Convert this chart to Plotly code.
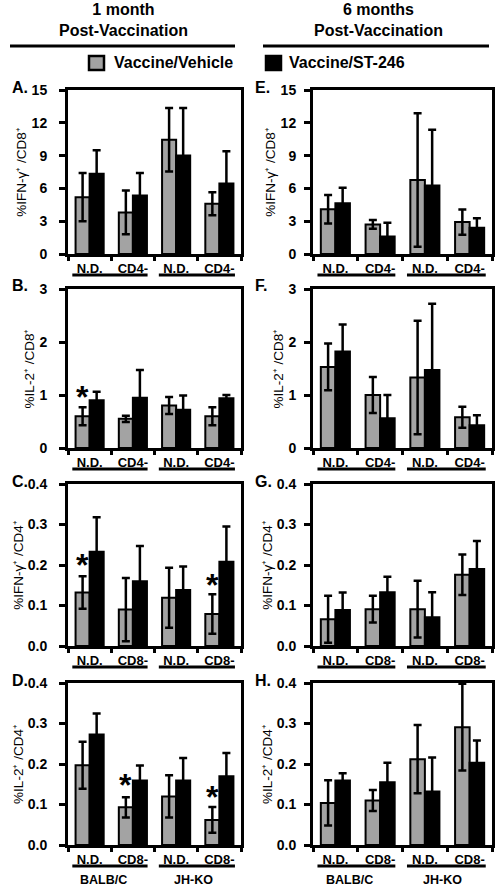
import plotly.graph_objects as go

# ---------------- data ----------------
groups = ["BALB/C", "BALB/C", "JH-KO", "JH-KO"]
cats_cd8 = ["N.D.", "CD4-", "N.D.", "CD4-"]   # CD8+ panels (A, B, E, F)
cats_cd4 = ["N.D.", "CD8-", "N.D.", "CD8-"]   # CD4+ panels (C, D, G, H)
strain_labels = ["BALB/C", "JH-KO"]
series_names = ["Vaccine/Vehicle", "Vaccine/ST-246"]

# 1 month post-vaccination
A_vehicle = [5.2, 3.8, 10.45, 4.6]
A_vehicle_err = [2.2, 2.0, 2.9, 1.05]
A_st246 = [7.35, 5.35, 9.0, 6.45]
A_st246_err = [2.15, 2.05, 4.35, 2.95]

B_vehicle = [0.6, 0.55, 0.8, 0.6]
B_vehicle_err = [0.17, 0.06, 0.16, 0.17]
B_st246 = [0.9, 0.95, 0.72, 0.94]
B_st246_err = [0.16, 0.52, 0.27, 0.06]

C_vehicle = [0.132, 0.09, 0.119, 0.079]
C_vehicle_err = [0.04, 0.078, 0.074, 0.049]
C_st246 = [0.233, 0.16, 0.138, 0.208]
C_st246_err = [0.085, 0.087, 0.058, 0.087]

D_vehicle = [0.197, 0.093, 0.12, 0.062]
D_vehicle_err = [0.058, 0.025, 0.052, 0.032]
D_st246 = [0.273, 0.159, 0.159, 0.17]
D_st246_err = [0.052, 0.037, 0.056, 0.057]

# 6 months post-vaccination
E_vehicle = [4.1, 2.7, 6.77, 2.92]
E_vehicle_err = [1.3, 0.4, 6.1, 1.15]
E_st246 = [4.65, 1.6, 6.27, 2.4]
E_st246_err = [1.4, 1.25, 5.1, 0.86]

F_vehicle = [1.53, 1.0, 1.33, 0.58]
F_vehicle_err = [0.44, 0.34, 1.07, 0.2]
F_st246 = [1.82, 0.56, 1.47, 0.43]
F_st246_err = [0.51, 0.44, 1.25, 0.19]

G_vehicle = [0.066, 0.091, 0.091, 0.176]
G_vehicle_err = [0.058, 0.033, 0.07, 0.05]
G_st246 = [0.089, 0.133, 0.071, 0.19]
G_st246_err = [0.043, 0.038, 0.062, 0.069]

H_vehicle = [0.104, 0.11, 0.212, 0.291]
H_vehicle_err = [0.056, 0.026, 0.084, 0.107]
H_st246 = [0.159, 0.155, 0.132, 0.203]
H_st246_err = [0.018, 0.048, 0.084, 0.055]

# significance markers: (panel, category index, y value)
asterisks = [("B", 0, 0.96), ("C", 0, 0.2), ("C", 3, 0.151), ("D", 1, 0.148), ("D", 3, 0.118)]

# ---------------- styling / layout ----------------
W, H = 495, 890
FONT = "Liberation Sans, Arial, sans-serif"
GRAY = "#a3a3a3"
BARGAP = 0.35
col_px = [(68, 241), (313, 492)]
row_px = [(90, 254), (289, 448), (484, 646), (683, 845)]
label_standoff = [9, 5]

ifn_cd8 = "%IFN-γ⁺ /CD8⁺"
il2_cd8 = "%IL-2⁺ /CD8⁺"
ifn_cd4 = "%IFN-γ⁺ /CD4⁺"
il2_cd4 = "%IL-2⁺ /CD4⁺"

panels = [
    ("A", 0, 0, A_vehicle, A_vehicle_err, A_st246, A_st246_err, cats_cd8, [0, 15], 3, "d", ifn_cd8),
    ("B", 1, 0, B_vehicle, B_vehicle_err, B_st246, B_st246_err, cats_cd8, [0, 3], 1, "d", il2_cd8),
    ("C", 2, 0, C_vehicle, C_vehicle_err, C_st246, C_st246_err, cats_cd4, [0, 0.4], 0.1, ".1f", ifn_cd4),
    ("D", 3, 0, D_vehicle, D_vehicle_err, D_st246, D_st246_err, cats_cd4, [0, 0.4], 0.1, ".1f", il2_cd4),
    ("E", 0, 1, E_vehicle, E_vehicle_err, E_st246, E_st246_err, cats_cd8, [0, 15], 3, "d", ifn_cd8),
    ("F", 1, 1, F_vehicle, F_vehicle_err, F_st246, F_st246_err, cats_cd8, [0, 3], 1, "d", il2_cd8),
    ("G", 2, 1, G_vehicle, G_vehicle_err, G_st246, G_st246_err, cats_cd4, [0, 0.4], 0.1, ".1f", ifn_cd4),
    ("H", 3, 1, H_vehicle, H_vehicle_err, H_st246, H_st246_err, cats_cd4, [0, 0.4], 0.1, ".1f", il2_cd4),
]


def px_x(p):
    return p / W


def px_y(p):
    return 1 - p / H


fig = go.Figure()
layout = dict(
    width=W, height=H, autosize=False,
    margin=dict(l=0, r=0, t=0, b=0, autoexpand=False),
    paper_bgcolor="white", plot_bgcolor="white",
    barmode="group", bargap=BARGAP, bargroupgap=0,
    showlegend=False,
    font=dict(family=FONT, color="black"),
)
annotations = []
shapes = []
gray_offset = -(1 - BARGAP) / 4
panel_axes = {}

for idx, (letter, r, c, veh, veh_err, st, st_err, cats, yr, dt, fmt, ytitle) in enumerate(panels):
    n = idx + 1
    s = "" if n == 1 else str(n)
    keys = [g + " " + k for g, k in zip(groups, cats)]
    panel_axes[letter] = s
    err_style = dict(type="data", color="black", thickness=2.5, width=4, visible=True)
    fig.add_trace(go.Bar(
        x=keys, y=veh, name=series_names[0], legendgroup="veh",
        marker=dict(color=GRAY, line=dict(color="black", width=2)),
        error_y=dict(array=veh_err, **err_style),
        xaxis="x" + s, yaxis="y" + s,
    ))
    fig.add_trace(go.Bar(
        x=keys, y=st, name=series_names[1], legendgroup="st",
        marker=dict(color="black", line=dict(color="black", width=2)),
        error_y=dict(array=st_err, **err_style),
        xaxis="x" + s, yaxis="y" + s,
    ))
    x0, x1 = col_px[c]
    top, bot = row_px[r]
    layout["xaxis" + s] = dict(
        domain=[px_x(x0), px_x(x1)], anchor="y" + s, automargin=False,
        type="category", categoryorder="array", categoryarray=keys,
        tickmode="array", tickvals=keys, ticktext=cats,
        tickson="boundaries", ticks="outside", ticklen=4, tickwidth=2.5, tickcolor="black",
        showline=True, linewidth=3, linecolor="black", mirror=True,
        showgrid=False, zeroline=False, range=[-0.5, 3.5],
        tickfont=dict(family=FONT, size=13, color="black", weight="bold"),
    )
    layout["yaxis" + s] = dict(
        domain=[px_y(bot), px_y(top)], anchor="x" + s, automargin=False,
        range=yr, dtick=dt, tick0=0, tickformat=fmt,
        ticks="outside", ticklen=6, tickwidth=2.5, tickcolor="black",
        ticklabelstandoff=label_standoff[c],
        showline=True, linewidth=3, linecolor="black", mirror=True,
        showgrid=False, zeroline=False,
        tickfont=dict(family=FONT, size=14, color="black", weight="bold"),
        title=dict(text=ytitle, standoff=2,
                   font=dict(family=FONT, size=13.5, color="black")),
    )
    # panel letter
    annotations.append(dict(
        text=letter + ".", xref="paper", yref="paper",
        x=px_x(10 if c == 0 else 253), y=px_y(top - 3),
        xanchor="left", yanchor="middle", showarrow=False,
        font=dict(family=FONT, size=16, color="black", weight="bold"),
    ))
    # group underlines
    uy = px_y(bot + 21)
    for xa, xb in [(-0.4, 1.34), (1.6, 3.36)]:
        shapes.append(dict(type="line", xref="x" + s, yref="paper",
                           x0=xa, x1=xb, y0=uy, y1=uy,
                           line=dict(color="black", width=3)))
    if r == 3:
        for lbl, xc in zip(strain_labels, [0.32, 2.4]):
            annotations.append(dict(
                text=lbl, xref="x" + s, yref="paper", x=xc, y=px_y(bot + 35),
                xanchor="center", yanchor="middle", showarrow=False,
                font=dict(family=FONT, size=12.5, color="black", weight="bold"),
            ))

# asterisks above vehicle bars
for letter, ci, yv in asterisks:
    s = panel_axes[letter]
    annotations.append(dict(
        text="*", xref="x" + s, yref="y" + s, x=ci + gray_offset, y=yv,
        xanchor="center", yanchor="middle", showarrow=False, yshift=0,
        font=dict(family=FONT, size=32, color="black", weight="bold"),
    ))

# column headers
for txt, xc, xl0, xl1 in [("1 month<br>Post-Vaccination", 123, 10, 235),
                          ("6 months<br>Post-Vaccination", 378, 263, 489)]:
    annotations.append(dict(
        text=txt, xref="paper", yref="paper", x=px_x(xc), y=px_y(20),
        xanchor="center", yanchor="middle", showarrow=False,
        font=dict(family=FONT, size=16, color="black", weight="bold"),
    ))
    shapes.append(dict(type="line", xref="paper", yref="paper",
                       x0=px_x(xl0), x1=px_x(xl1), y0=px_y(46), y1=px_y(46),
                       line=dict(color="black", width=3)))

# legend swatches
for name, col, sx, tx in [(series_names[0], GRAY, 88, 112), (series_names[1], "black", 265, 287)]:
    shapes.append(dict(type="rect", xref="paper", yref="paper",
                       x0=px_x(sx + 1), x1=px_x(sx + 16), y0=px_y(70), y1=px_y(56),
                       fillcolor=col, line=dict(color="black", width=2.5)))
    annotations.append(dict(
        text=name, xref="paper", yref="paper", x=px_x(tx), y=px_y(63),
        xanchor="left", yanchor="middle", showarrow=False,
        font=dict(family=FONT, size=16, color="black", weight="bold"),
    ))

layout["annotations"] = annotations
layout["shapes"] = shapes
fig.update_layout(**layout)
fig.write_html(
    "out.html",
    config={"displayModeBar": False},
    post_script="document.body.style.margin='0';document.body.style.overflow='hidden';",
)
